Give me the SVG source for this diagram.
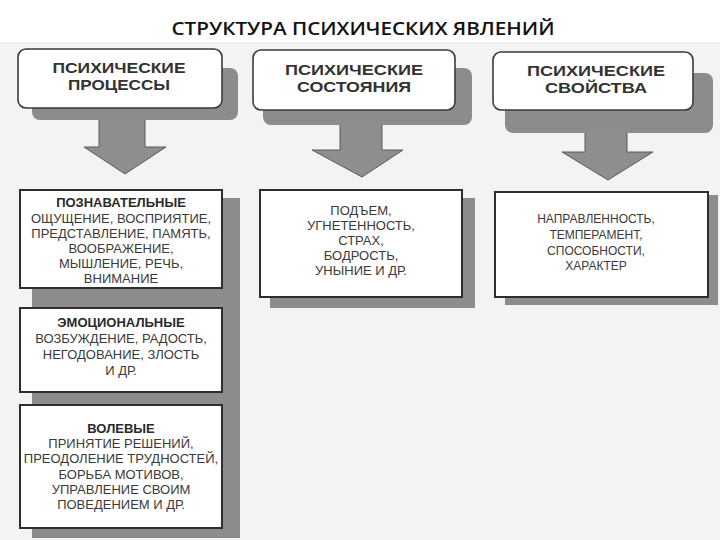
<svg xmlns="http://www.w3.org/2000/svg" width="720" height="540" viewBox="0 0 720 540">
<defs>
<style>
.bg{fill:#f3f3f3}
.shadow{fill:#8c8c8c}
.topbox{fill:#ffffff;stroke:#3a3a3a;stroke-width:1.6}
.box{fill:#ffffff;stroke:#2e2e2e;stroke-width:2}
.arrow{fill:#8e8e8e;stroke:#5a5a5a;stroke-width:1}
.title{font-family:"Open Sans","Liberation Sans",sans-serif;font-weight:600;font-size:18px;fill:#111;text-anchor:middle}
.ht{font-family:"Liberation Sans",Arial,sans-serif;font-weight:700;font-size:15px;fill:#333;text-anchor:middle}
.lt{font-family:"Liberation Sans",Arial,sans-serif;font-size:13px;fill:#3a3a3a;text-anchor:middle}
.lb{font-family:"Liberation Sans",Arial,sans-serif;font-weight:700;font-size:13px;fill:#2a2a2a;text-anchor:middle}
.mt{font-family:"Liberation Sans",Arial,sans-serif;font-size:13px;fill:#3a3a3a;text-anchor:middle}
.rt{font-family:"Liberation Sans",Arial,sans-serif;font-size:12px;fill:#3a3a3a;text-anchor:middle}
</style>
</defs>
<rect x="0" y="0" width="720" height="540" fill="#ffffff"/>
<rect class="bg" x="0" y="42" width="720" height="498"/>
<text class="title" x="363" y="35" textLength="383" lengthAdjust="spacingAndGlyphs">СТРУКТУРА ПСИХИЧЕСКИХ  ЯВЛЕНИЙ</text>

<g id="connectors">
<polygon class="arrow" points="99,110 145,110 145,147 166,147 125,174 84,147 99,147"/>
<polygon class="arrow" points="340,112 382,112 382,150 403,150 362,177 312,150 340,150"/>
<polygon class="arrow" points="585,118 627,118 627,152 653,152 608,180 562,152 585,152"/>
</g>

<g id="node-processes">
<rect class="shadow" x="32" y="68" width="206" height="52" rx="8"/>
<rect class="topbox" x="18" y="49" width="204" height="59" rx="8"/>
<text class="ht" x="119" y="73" textLength="133" lengthAdjust="spacingAndGlyphs">ПСИХИЧЕСКИЕ</text>
<text class="ht" x="119" y="90" textLength="102" lengthAdjust="spacingAndGlyphs">ПРОЦЕССЫ</text>
</g>

<g id="node-states">
<rect class="shadow" x="263" y="68" width="209" height="57" rx="8"/>
<rect class="topbox" x="253" y="50" width="202" height="60" rx="8"/>
<text class="ht" x="354" y="75" textLength="138" lengthAdjust="spacingAndGlyphs">ПСИХИЧЕСКИЕ</text>
<text class="ht" x="354" y="92" textLength="114" lengthAdjust="spacingAndGlyphs">СОСТОЯНИЯ</text>
</g>

<g id="node-properties">
<rect class="shadow" x="505" y="73" width="208" height="60" rx="8"/>
<rect class="topbox" x="493" y="52" width="200" height="58" rx="8"/>
<text class="ht" x="596" y="76" textLength="138" lengthAdjust="spacingAndGlyphs">ПСИХИЧЕСКИЕ</text>
<text class="ht" x="596" y="93" textLength="102" lengthAdjust="spacingAndGlyphs">СВОЙСТВА</text>
</g>

<g id="left-column-shadow">
<rect class="shadow" x="32" y="198" width="208" height="340"/>
</g>

<g id="node-cognitive">
<rect class="box" x="20" y="190" width="202" height="98"/>
<text class="lb" x="121" y="207">ПОЗНАВАТЕЛЬНЫЕ</text>
<text class="lt" x="121" y="223">ОЩУЩЕНИЕ, ВОСПРИЯТИЕ,</text>
<text class="lt" x="121" y="238">ПРЕДСТАВЛЕНИЕ, ПАМЯТЬ,</text>
<text class="lt" x="121" y="253">ВООБРАЖЕНИЕ,</text>
<text class="lt" x="121" y="268">МЫШЛЕНИЕ, РЕЧЬ,</text>
<text class="lt" x="121" y="283">ВНИМАНИЕ</text>
</g>

<g id="node-emotional">
<rect class="box" x="20" y="308" width="202" height="84"/>
<text class="lb" x="121" y="327">ЭМОЦИОНАЛЬНЫЕ</text>
<text class="lt" x="121" y="343">ВОЗБУЖДЕНИЕ, РАДОСТЬ,</text>
<text class="lt" x="121" y="359">НЕГОДОВАНИЕ, ЗЛОСТЬ</text>
<text class="lt" x="121" y="375">И ДР.</text>
</g>

<g id="node-volitional">
<rect class="box" x="20" y="405" width="202" height="123"/>
<text class="lb" x="121" y="433">ВОЛЕВЫЕ</text>
<text class="lt" x="121" y="448">ПРИНЯТИЕ РЕШЕНИЙ,</text>
<text class="lt" x="121" y="463">ПРЕОДОЛЕНИЕ ТРУДНОСТЕЙ,</text>
<text class="lt" x="121" y="479">БОРЬБА МОТИВОВ,</text>
<text class="lt" x="121" y="494">УПРАВЛЕНИЕ СВОИМ</text>
<text class="lt" x="121" y="509">ПОВЕДЕНИЕМ И ДР.</text>
</g>

<g id="node-state-list">
<rect class="shadow" x="270" y="198" width="205" height="110"/>
<rect class="box" x="260" y="190" width="202" height="107"/>
<text class="mt" x="361" y="215">ПОДЪЕМ,</text>
<text class="mt" x="361" y="230">УГНЕТЕННОСТЬ,</text>
<text class="mt" x="361" y="245">СТРАХ,</text>
<text class="mt" x="361" y="260">БОДРОСТЬ,</text>
<text class="mt" x="361" y="275">УНЫНИЕ И ДР.</text>
</g>

<g id="node-property-list">
<rect class="shadow" x="505" y="195" width="213" height="110"/>
<rect class="box" x="495" y="192" width="213" height="105"/>
<text class="rt" x="596" y="223">НАПРАВЛЕННОСТЬ,</text>
<text class="rt" x="596" y="239">ТЕМПЕРАМЕНТ,</text>
<text class="rt" x="596" y="255">СПОСОБНОСТИ,</text>
<text class="rt" x="596" y="270">ХАРАКТЕР</text>
</g>
</svg>
